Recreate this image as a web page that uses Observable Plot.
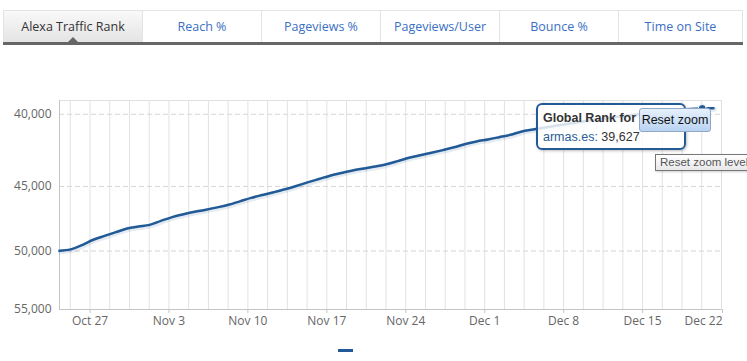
<!DOCTYPE html>
<html><head><meta charset="utf-8">
<script src="https://cdn.jsdelivr.net/npm/d3@7"></script>
<script src="https://cdn.jsdelivr.net/npm/@observablehq/plot@0.6"></script>
<style>
body{margin:0;background:#fff;font-family:"Open Sans",sans-serif;}
#wrap{position:relative;width:747px;height:361px;overflow:hidden;background:#fff;}
#chart{position:absolute;left:0;top:0;}
#tabs{position:absolute;left:3px;top:10px;width:740px;height:31px;display:flex;border-top:1px solid #e4e4e4;border-bottom:3px solid #666;}
.tab{box-sizing:border-box;height:31px;line-height:31px;text-align:center;font-size:12.5px;color:#3a6fc4;border-right:1px solid #e4e4e4;background:#fff;}
.tab.active{background:linear-gradient(#f9f9f9,#e4e4e4);color:#333;position:relative;border-left:1px solid #e4e4e4;}
.tab.active:after{content:"";position:absolute;left:50%;bottom:0;margin-left:-5px;width:0;height:0;border-left:5px solid transparent;border-right:5px solid transparent;border-bottom:5px solid #666;}
#tip{position:absolute;left:536px;top:103px;width:146px;height:43px;border:2px solid #215a96;border-radius:6px;background:rgba(255,255,255,0.82);box-shadow:1px 1px 3px rgba(0,0,0,0.25);font-family:"Liberation Sans",Arial,sans-serif;}
#tip .t1{position:absolute;left:5px;top:6px;font-weight:bold;font-size:12.5px;color:#333;white-space:nowrap;}
#tip .t2{position:absolute;left:5px;top:25px;font-size:12.5px;color:#333;white-space:nowrap;}
#tip .t2 span{color:#2a5d94;}
#reset{position:absolute;left:639px;top:108px;width:72px;height:24px;box-sizing:border-box;border:1px solid #8fa6c8;border-radius:3px;background:linear-gradient(#e6f0fc,#b9d3f2);font-family:"Liberation Sans",Arial,sans-serif;font-size:12.5px;color:#111;text-align:center;line-height:22px;white-space:nowrap;}
#btip{position:absolute;left:655px;top:154px;width:110px;height:17px;box-sizing:border-box;border:1px solid #767676;background:linear-gradient(#fff,#e8e8ec);font-family:"Liberation Sans",Arial,sans-serif;font-size:11.5px;color:#555;line-height:15px;padding-left:4px;white-space:nowrap;box-shadow:1px 1px 2px rgba(0,0,0,0.2);}
#legend{position:absolute;left:338px;top:349px;width:15px;height:3px;background:#215a96;}
</style>
</head><body>
<div id="wrap">
  <div id="chart"></div>
  <div id="tabs"></div>
  <div id="tip"><div class="t1">Global Rank for</div><div class="t2"><span>armas.es:</span> 39,627</div></div>
  <div id="reset">Reset zoom</div>
  <div id="btip">Reset zoom level</div>
  <div id="legend"></div>
</div>
<script>
// ---- data ----
const tabNames = ["Alexa Traffic Rank", "Reach %", "Pageviews %", "Pageviews/User", "Bounce %", "Time on Site"];
const tabWidths = [140, 119, 119, 119, 119, 124];
const startDate = new Date(2014, 9, 24, 7);
const ranks = [
  49980, 49866, 49516, 49089, 48779, 48484, 48196, 48039, 47913, 47599,
  47305, 47091, 46900, 46743, 46561, 46363, 46106, 45845, 45635, 45428,
  45209, 44964, 44704, 44459, 44216, 44025, 43841, 43699, 43561, 43400,
  43180, 42944, 42765, 42593, 42413, 42219, 41988, 41813, 41683, 41527,
  41364, 41148, 41012, 40884, 40756, 40636, 40525, 40413, 40305, 40212,
  40120, 40029, 39935, 39838, 39741, 39700, 39660, 39627, 39605
];
const hoverIndex = 57;
const yTicks = [40000, 45000, 50000, 55000];
const yGrid = [40000, 45000, 50000];
const xTickLabels = ["Oct 27", "Nov 3", "Nov 10", "Nov 17", "Nov 24", "Dec 1", "Dec 8", "Dec 15", "Dec 22"];
const year = 2014;

// ---- build ----
const tabs = document.getElementById("tabs");
tabNames.forEach((n, i) => {
  const d = document.createElement("div");
  d.className = "tab" + (i === 0 ? " active" : "");
  d.style.width = tabWidths[i] + "px";
  d.textContent = n;
  tabs.appendChild(d);
});

const data = ranks.map((r, i) => ({date: d3.timeDay.offset(startDate, i), rank: r}));
const parse = d3.timeParse("%b %d %Y");
const xTicks = xTickLabels.map(s => parse(s + " " + year));
const fmt = d3.timeFormat("%b %-d");
const xDomain = [new Date(2014, 9, 24, 7, 5), xTicks[xTicks.length - 1]];
// minor grid: 4 per week, aligned with weekly ticks
const step = 1.75 * 864e5;
const gridDates = d3.range(-1, 33).map(k => new Date(+xTicks[0] + k * step)).filter(d => d > xDomain[0] && d < xDomain[1]);

const chart = Plot.plot({
  width: 747, height: 361,
  marginLeft: 59, marginRight: 26, marginTop: 100, marginBottom: 52,
  style: {fontFamily: "'Open Sans', sans-serif", fontSize: "12px", color: "#666", background: "transparent", overflow: "visible"},
  x: {type: "time", domain: xDomain},
  y: {type: "log", domain: [39115, 55000], reverse: true},
  marks: [
    Plot.ruleX(gridDates, {stroke: "#e2e2e2", strokeWidth: 1}),
    Plot.ruleY(yGrid, {stroke: "#d6d6d6", strokeDasharray: "5,3"}),
    Plot.frame({stroke: "#e0e0e0"}),
    Plot.ruleX([xDomain[0]], {stroke: "#c4c4c4"}),
    Plot.ruleY([55000], {stroke: "#c4c4c4"}),
    Plot.axisY({ticks: yTicks, tickFormat: d3.format(","), tickSize: 0, tickPadding: 8, label: null, fill: "#666"}),
    Plot.axisX({ticks: xTicks.slice(0, -1), tickFormat: fmt, tickSize: 4, tickPadding: 3, label: null, stroke: "#c4c4c4", fill: "#666"}),
    Plot.axisX({ticks: xTicks.slice(-1), tickFormat: fmt, tickSize: 4, tickPadding: 3, textAnchor: "end", dx: 1, label: null, stroke: "#c4c4c4", fill: "#666"}),
    Plot.line(data, {x: "date", y: "rank", stroke: "#215a96", strokeOpacity: 0.12, strokeWidth: 5, dx: 1, dy: 1, curve: "monotone-x"}),
    Plot.line(data, {x: "date", y: "rank", stroke: "#215a96", strokeWidth: 2.5, curve: "monotone-x"}),
    Plot.dot([data[hoverIndex]], {x: "date", y: "rank", r: 4, fill: "#215a96", stroke: "#fff", strokeWidth: 1})
  ]
});
document.getElementById("chart").appendChild(chart);
</script>
</body></html>
